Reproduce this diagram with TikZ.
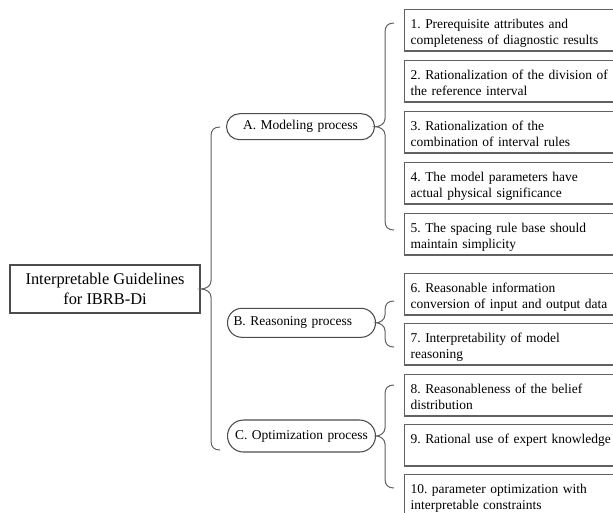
\documentclass[tikz,border=0pt]{standalone}
\usepackage{fontspec}
\setmainfont{Liberation Serif}
\frenchspacing

\tikzset{
  itembox/.style={draw=black!62, line width=1pt, anchor=north west, text width=156pt, align=left, inner xsep=4.5pt, inner ysep=0pt, text height=14pt, text depth=17pt, font=\fontsize{10.1}{12}\selectfont},
  stagebox/.style={draw=black!70, line width=0.8pt, rectangle, text width=102pt, inner xsep=4.5pt, inner ysep=0pt, font=\fontsize{10.1}{12}\selectfont},
  rootbox/.style={draw=black!70, line width=0.9pt, rectangle, minimum width=142.5pt, minimum height=36pt, align=center, inner sep=0pt, font=\fontsize{12.3}{15}\selectfont},
  brace line/.style={draw=black!62, line width=0.75pt}
}
% parent node, x of the line, top, bottom, y of the tip
\newcommand{\grpbrace}[5]{%
  \draw [brace line] (#2+9,#3) .. controls (#2+3,#3) and (#2,#3+3) .. (#2,#3+9)
    -- (#2,#5-8) .. controls (#2,#5-3) and (#2-5,#5) .. (#1.east)
    .. controls (#2-5,#5) and (#2,#5+3) .. (#2,#5+8)
    -- (#2,#4-9) .. controls (#2,#4-3) and (#2+3,#4) .. (#2+9,#4);
}

\begin{document}
\begin{tikzpicture}[x=0.75pt,y=0.75pt,yscale=-1,xscale=1]
\useasboundingbox (0,0) rectangle (613,512);
\clip (0,0) rectangle (613,512);

% Root
\node [rootbox] (guide) at (105,289) {Interpretable Guidelines\\for IBRB-Di};

% Process nodes
\node [stagebox, align=center, minimum height=19.5pt, rounded corners=9.75pt] (modeling) at (300.5,126.7) {A. Modeling process};
\node [stagebox, align=left, minimum height=21.75pt, rounded corners=10.8pt] (reasoning) at (301.5,322.8) {B. Reasoning process};
\node [stagebox, align=center, minimum height=24pt, rounded corners=12pt] (optim) at (301.5,436) {C. Optimization process};

% Guidelines of the modeling process
\node [itembox] (g1) at (404,9) {1. Prerequisite attributes and\\completeness of diagnostic results};
\node [itembox] (g2) at (404,60) {2. Rationalization of the division of\\the reference interval};
\node [itembox] (g3) at (404,111) {3. Rationalization of the\\combination of interval rules};
\node [itembox] (g4) at (404,162) {4. The model parameters have\\actual physical significance};
\node [itembox] (g5) at (404,213) {5. The spacing rule base should\\maintain simplicity};

% Guidelines of the reasoning process
\node [itembox] (g6) at (404,273) {6. Reasonable information\\conversion of input and output data};
\node [itembox] (g7) at (404,323) {7. Interpretability of model\\reasoning};

% Guidelines of the optimization process
\node [itembox] (g8) at (404,374) {8. Reasonableness of the belief\\distribution};
\node [itembox] (g9) at (404,424) {9. Rational use of expert knowledge};
\node [itembox] (g10) at (404,474) {10. parameter optimization with\\interpretable constraints};

% Braces
\grpbrace{guide}{211}{127}{450}{289}
\grpbrace{modeling}{385}{23}{230}{126.7}
\grpbrace{reasoning}{385}{301}{347}{322.8}
\grpbrace{optim}{385}{385}{488}{436}

\end{tikzpicture}
\end{document}
